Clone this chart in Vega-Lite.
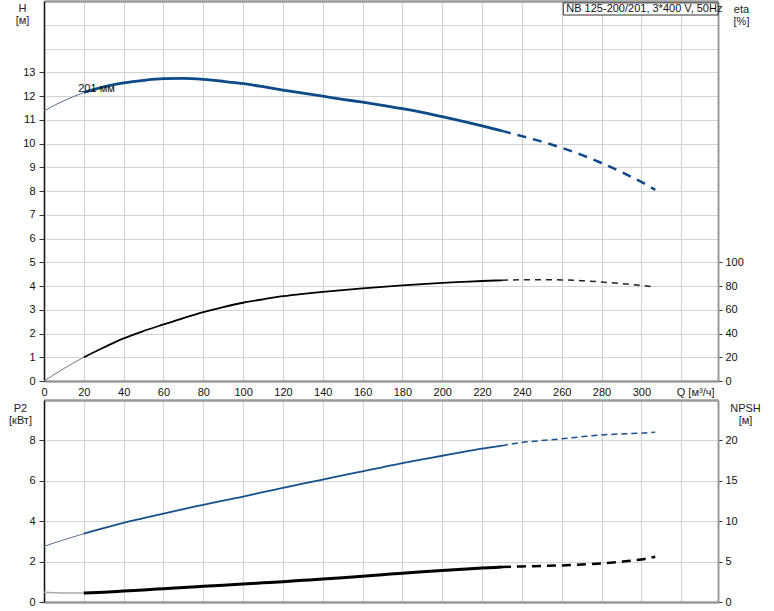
{
  "$schema": "https://vega.github.io/schema/vega-lite/v6.json",
  "padding": {"left": 8, "top": 1, "right": 5, "bottom": 5},
  "background": "white",
  "bounds": "flush",
  "spacing": 19,
  "datasets": {
    "top": [
      {"Q": 0, "H": 11.37, "eta": 0, "part": "thin"},
      {"Q": 5, "H": 11.6, "eta": 5.3, "part": "thin"},
      {"Q": 10, "H": 11.8, "eta": 10.5, "part": "thin"},
      {"Q": 15, "H": 11.98, "eta": 15.4, "part": "thin"},
      {"Q": 20, "H": 12.15, "eta": 20, "part": "thin"},
      {"Q": 20, "H": 12.15, "eta": 20, "part": "solid"},
      {"Q": 30, "H": 12.38, "eta": 28.2, "part": "solid"},
      {"Q": 40, "H": 12.55, "eta": 35.9, "part": "solid"},
      {"Q": 50, "H": 12.66, "eta": 42.1, "part": "solid"},
      {"Q": 60, "H": 12.73, "eta": 47.6, "part": "solid"},
      {"Q": 70, "H": 12.74, "eta": 53.0, "part": "solid"},
      {"Q": 80, "H": 12.7, "eta": 58.0, "part": "solid"},
      {"Q": 90, "H": 12.62, "eta": 62.2, "part": "solid"},
      {"Q": 100, "H": 12.52, "eta": 65.9, "part": "solid"},
      {"Q": 110, "H": 12.39, "eta": 68.8, "part": "solid"},
      {"Q": 120, "H": 12.25, "eta": 71.4, "part": "solid"},
      {"Q": 130, "H": 12.12, "eta": 73.4, "part": "solid"},
      {"Q": 140, "H": 11.99, "eta": 75.1, "part": "solid"},
      {"Q": 150, "H": 11.86, "eta": 76.6, "part": "solid"},
      {"Q": 160, "H": 11.74, "eta": 78.0, "part": "solid"},
      {"Q": 170, "H": 11.61, "eta": 79.3, "part": "solid"},
      {"Q": 180, "H": 11.47, "eta": 80.5, "part": "solid"},
      {"Q": 190, "H": 11.31, "eta": 81.6, "part": "solid"},
      {"Q": 200, "H": 11.13, "eta": 82.6, "part": "solid"},
      {"Q": 210, "H": 10.94, "eta": 83.4, "part": "solid"},
      {"Q": 220, "H": 10.74, "eta": 84.2, "part": "solid"},
      {"Q": 230, "H": 10.53, "eta": 84.8, "part": "solid"},
      {"Q": 230, "H": 10.53, "eta": 84.8, "part": "dash"},
      {"Q": 240, "H": 10.31, "eta": 85.2, "part": "dash"},
      {"Q": 250, "H": 10.08, "eta": 85.3, "part": "dash"},
      {"Q": 260, "H": 9.82, "eta": 85.1, "part": "dash"},
      {"Q": 270, "H": 9.52, "eta": 84.5, "part": "dash"},
      {"Q": 280, "H": 9.18, "eta": 83.4, "part": "dash"},
      {"Q": 290, "H": 8.8, "eta": 82.0, "part": "dash"},
      {"Q": 300, "H": 8.38, "eta": 80.4, "part": "dash"},
      {"Q": 307, "H": 8.05, "eta": 79.2, "part": "dash"}
    ],
    "bot": [
      {"Q": 0, "P2": 2.75, "NPSH": 1.2, "part": "thin"},
      {"Q": 5, "P2": 2.92, "NPSH": 1.15, "part": "thin"},
      {"Q": 10, "P2": 3.08, "NPSH": 1.12, "part": "thin"},
      {"Q": 15, "P2": 3.23, "NPSH": 1.1, "part": "thin"},
      {"Q": 20, "P2": 3.38, "NPSH": 1.1, "part": "thin"},
      {"Q": 20, "P2": 3.38, "NPSH": 1.1, "part": "solid"},
      {"Q": 30, "P2": 3.66, "NPSH": 1.22, "part": "solid"},
      {"Q": 40, "P2": 3.92, "NPSH": 1.36, "part": "solid"},
      {"Q": 50, "P2": 4.15, "NPSH": 1.5, "part": "solid"},
      {"Q": 60, "P2": 4.38, "NPSH": 1.65, "part": "solid"},
      {"Q": 70, "P2": 4.6, "NPSH": 1.8, "part": "solid"},
      {"Q": 80, "P2": 4.81, "NPSH": 1.94, "part": "solid"},
      {"Q": 90, "P2": 5.02, "NPSH": 2.08, "part": "solid"},
      {"Q": 100, "P2": 5.22, "NPSH": 2.22, "part": "solid"},
      {"Q": 110, "P2": 5.44, "NPSH": 2.37, "part": "solid"},
      {"Q": 120, "P2": 5.65, "NPSH": 2.52, "part": "solid"},
      {"Q": 130, "P2": 5.86, "NPSH": 2.68, "part": "solid"},
      {"Q": 140, "P2": 6.06, "NPSH": 2.84, "part": "solid"},
      {"Q": 150, "P2": 6.27, "NPSH": 3.01, "part": "solid"},
      {"Q": 160, "P2": 6.47, "NPSH": 3.19, "part": "solid"},
      {"Q": 170, "P2": 6.67, "NPSH": 3.38, "part": "solid"},
      {"Q": 180, "P2": 6.88, "NPSH": 3.57, "part": "solid"},
      {"Q": 190, "P2": 7.06, "NPSH": 3.75, "part": "solid"},
      {"Q": 200, "P2": 7.24, "NPSH": 3.91, "part": "solid"},
      {"Q": 210, "P2": 7.42, "NPSH": 4.06, "part": "solid"},
      {"Q": 220, "P2": 7.59, "NPSH": 4.2, "part": "solid"},
      {"Q": 230, "P2": 7.74, "NPSH": 4.32, "part": "solid"},
      {"Q": 230, "P2": 7.74, "NPSH": 4.32, "part": "dash"},
      {"Q": 240, "P2": 7.9, "NPSH": 4.4, "part": "dash"},
      {"Q": 250, "P2": 7.99, "NPSH": 4.46, "part": "dash"},
      {"Q": 260, "P2": 8.08, "NPSH": 4.53, "part": "dash"},
      {"Q": 270, "P2": 8.18, "NPSH": 4.63, "part": "dash"},
      {"Q": 280, "P2": 8.27, "NPSH": 4.78, "part": "dash"},
      {"Q": 290, "P2": 8.32, "NPSH": 4.98, "part": "dash"},
      {"Q": 300, "P2": 8.36, "NPSH": 5.27, "part": "dash"},
      {"Q": 307, "P2": 8.41, "NPSH": 5.6, "part": "dash"}
    ],
    "notes": [
      {"Q": 17.2, "H": 12.29, "label": "201 мм"},
      {"Q": 262.3, "H": 15.66, "label": "NB 125-200/201, 3*400 V, 50Hz"}
    ],
    "box": [
      {"Q": 260.8, "Q2": 338.5, "H": 15.92, "H2": 15.41}
    ]
  },
  "vconcat": [
    {
      "width": 674,
      "height": 380,
      "data": {"name": "top"},
      "encoding": {
        "x": {
          "field": "Q", "type": "quantitative",
          "scale": {"domain": [0, 338.5], "nice": false, "zero": false},
          "axis": {
            "values": [0, 20, 40, 60, 80, 100, 120, 140, 160, 180, 200, 220, 240, 260, 280, 300, 320],
            "labelExpr": "datum.value > 300 ? '' : datum.label",
            "ticks": false, "labelPadding": 5, "labelFlush": false,
            "grid": true, "domain": true, "domainColor": "#999", "domainWidth": 2.5,
            "title": "Q [м³/ч]", "titleAlign": "right", "titleBaseline": "top",
            "titleX": 670, "titleY": 5
          }
        }
      },
      "layer": [
        {
          "encoding": {
            "y": {
              "field": "H", "type": "quantitative",
              "scale": {"domain": [0, 16], "nice": false, "zero": false},
              "axis": {
                "orient": "left",
                "values": [0, 1, 2, 3, 4, 5, 6, 7, 8, 9, 10, 11, 12, 13, 14, 15, 16],
                "labelExpr": "datum.value > 13 ? '' : datum.label",
                "tickOpacity": {"condition": {"test": "datum.value > 13", "value": 0}, "value": 1},
                "tickSize": 5, "labelPadding": 4,
                "gridColor": {"condition": {"test": "datum.value >= 16", "value": "#999"}, "value": "#d3d3d3"},
                "gridWidth": {"condition": {"test": "datum.value >= 16", "value": 2.5}, "value": 1.2},
                "domainColor": "#111", "domainWidth": 1.5,
                "title": ["H", "[м]"], "titleAngle": 0, "titleAlign": "center", "titleBaseline": "top",
                "titleX": -22, "titleY": 1, "titleLineHeight": 12
              }
            }
          },
          "layer": [
            {"transform": [{"filter": "datum.part == 'thin'"}], "mark": {"type": "line", "color": "#5a6e8e", "strokeWidth": 1, "interpolate": "monotone"}},
            {"transform": [{"filter": "datum.part == 'solid'"}], "mark": {"type": "line", "color": "#0d4a87", "strokeWidth": 2.8, "interpolate": "monotone"}},
            {"transform": [{"filter": "datum.part == 'dash'"}], "mark": {"type": "line", "color": "#0d4a87", "strokeWidth": 2.5, "strokeDash": [9, 7], "interpolate": "monotone"}},
            {
              "data": {"name": "box"},
              "mark": {"type": "rect", "fill": "white", "stroke": "#333", "strokeWidth": 1},
              "encoding": {
                "x2": {"field": "Q2"},
                "y2": {"field": "H2"}
              }
            },
            {
              "data": {"name": "notes"},
              "mark": {"type": "text", "align": "left", "baseline": "middle", "font": "Liberation Sans", "fontSize": 11, "color": "#111"},
              "encoding": {
                "text": {"field": "label"}
              }
            }
          ]
        },
        {
          "encoding": {
            "y": {
              "field": "eta", "type": "quantitative",
              "scale": {"domain": [0, 320], "nice": false, "zero": false},
              "axis": {
                "orient": "right",
                "values": [0, 20, 40, 60, 80, 100],
                "grid": false, "tickSize": 4, "labelPadding": 3,
                "domainColor": "#999", "domainWidth": 2,
                "title": ["eta", "[%]"], "titleAngle": 0, "titleAlign": "center", "titleBaseline": "top",
                "titleX": 23, "titleY": 2, "titleLineHeight": 12
              }
            }
          },
          "layer": [
            {"transform": [{"filter": "datum.part == 'thin'"}], "mark": {"type": "line", "color": "#777", "strokeWidth": 1, "interpolate": "monotone"}},
            {"transform": [{"filter": "datum.part == 'solid'"}], "mark": {"type": "line", "color": "#000", "strokeWidth": 1.8, "interpolate": "monotone"}},
            {"transform": [{"filter": "datum.part == 'dash'"}], "mark": {"type": "line", "color": "#222", "strokeWidth": 1.5, "strokeDash": [6, 5], "interpolate": "monotone"}}
          ]
        }
      ],
      "resolve": {"scale": {"y": "independent"}}
    },
    {
      "width": 674,
      "height": 202,
      "data": {"name": "bot"},
      "encoding": {
        "x": {
          "field": "Q", "type": "quantitative",
          "scale": {"domain": [0, 338.5], "nice": false, "zero": false},
          "axis": {
            "values": [0, 20, 40, 60, 80, 100, 120, 140, 160, 180, 200, 220, 240, 260, 280, 300, 320],
            "labels": false, "ticks": false, "grid": true,
            "domain": true, "domainColor": "#999", "domainWidth": 2.5, "title": null
          }
        }
      },
      "layer": [
        {
          "encoding": {
            "y": {
              "field": "P2", "type": "quantitative",
              "scale": {"domain": [0, 10], "nice": false, "zero": false},
              "axis": {
                "orient": "left",
                "values": [0, 2, 4, 6, 8, 10],
                "labelExpr": "datum.value > 8 ? '' : datum.label",
                "tickOpacity": {"condition": {"test": "datum.value > 8", "value": 0}, "value": 1},
                "tickSize": 5, "labelPadding": 4,
                "gridColor": {"condition": {"test": "datum.value >= 10", "value": "#999"}, "value": "#d3d3d3"},
                "gridWidth": {"condition": {"test": "datum.value >= 10", "value": 2.5}, "value": 1.2},
                "domainColor": "#111", "domainWidth": 1.5,
                "title": ["P2", "[кВт]"], "titleAngle": 0, "titleAlign": "center", "titleBaseline": "top",
                "titleX": -24, "titleY": 2, "titleLineHeight": 12
              }
            }
          },
          "layer": [
            {"transform": [{"filter": "datum.part == 'thin'"}], "mark": {"type": "line", "color": "#5a6e8e", "strokeWidth": 1, "interpolate": "monotone"}},
            {"transform": [{"filter": "datum.part == 'solid'"}], "mark": {"type": "line", "color": "#174f8c", "strokeWidth": 1.8, "interpolate": "monotone"}},
            {"transform": [{"filter": "datum.part == 'dash'"}], "mark": {"type": "line", "color": "#174f8c", "strokeWidth": 1.5, "strokeDash": [6, 4], "interpolate": "monotone"}}
          ]
        },
        {
          "encoding": {
            "y": {
              "field": "NPSH", "type": "quantitative",
              "scale": {"domain": [0, 25], "nice": false, "zero": false},
              "axis": {
                "orient": "right",
                "values": [0, 5, 10, 15, 20],
                "grid": false, "tickSize": 4, "labelPadding": 3,
                "domainColor": "#999", "domainWidth": 2,
                "title": ["NPSH", "[м]"], "titleAngle": 0, "titleAlign": "center", "titleBaseline": "top",
                "titleX": 27, "titleY": 2, "titleLineHeight": 12
              }
            }
          },
          "layer": [
            {"transform": [{"filter": "datum.part == 'thin'"}], "mark": {"type": "line", "color": "#aaa", "strokeWidth": 1.5, "interpolate": "monotone"}},
            {"transform": [{"filter": "datum.part == 'solid'"}], "mark": {"type": "line", "color": "#000", "strokeWidth": 3, "interpolate": "monotone"}},
            {"transform": [{"filter": "datum.part == 'dash'"}], "mark": {"type": "line", "color": "#000", "strokeWidth": 2.5, "strokeDash": [9, 6], "interpolate": "monotone"}}
          ]
        }
      ],
      "resolve": {"scale": {"y": "independent"}}
    }
  ],
  "config": {
    "view": {"stroke": null},
    "axis": {
      "labelFont": "Liberation Sans", "titleFont": "Liberation Sans",
      "labelFontSize": 11, "titleFontSize": 11, "titleFontWeight": "normal",
      "labelColor": "#111", "titleColor": "#222",
      "gridColor": "#d3d3d3", "gridWidth": 1.2, "tickColor": "#333"
    }
  }
}
